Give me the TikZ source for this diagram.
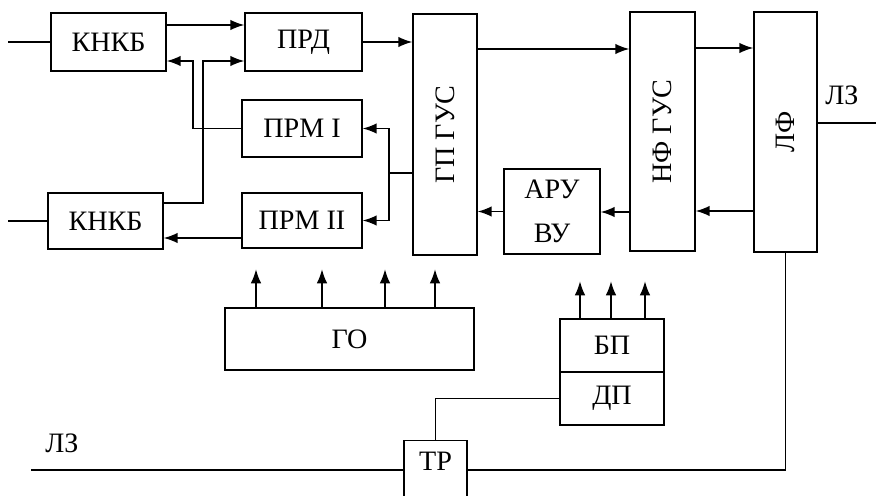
\documentclass[tikz,border=0pt]{standalone}
\usepackage{fontspec}
\setmainfont{Liberation Serif}
\usepackage{graphicx}
\usetikzlibrary{arrows.meta, calc}

\begin{document}
\begin{tikzpicture}[x=0.02cm, y=-0.02cm, line width=0.8pt,
  font=\fontsize{16}{19}\selectfont,
  block/.style={draw, rectangle, inner sep=0pt},
  arr/.style={-{Latex[length=2.8mm,width=2.1mm]}}]
\path[use as bounding box, clip] (0,0) rectangle (876,496);

% Blocks
\node[block, minimum width=2.3cm, minimum height=1.16cm] (knkbA) at (108.5,42) {КНКБ};
\node[block, minimum width=2.3cm, minimum height=1.12cm] (knkbB) at (105.5,221) {КНКБ};
\node[block, minimum width=2.34cm, minimum height=1.16cm] (prd) at (303.5,42) {ПРД};
\node[block, minimum width=2.4cm, minimum height=1.14cm] (prmA) at (302,128.5) {ПРМ I};
\node[block, minimum width=2.4cm, minimum height=1.1cm] (prmB) at (302,220.5) {ПРМ II};
\node[block, minimum width=1.28cm, minimum height=4.82cm] (gpgus) at (445,134.5) {\rotatebox{90}{ГП ГУС}};
\node[block, minimum width=1.92cm, minimum height=1.7cm, align=center] (aru) at (552,211.5) {АРУ\\[6pt]ВУ};
\node[block, minimum width=1.3cm, minimum height=4.78cm] (nfgus) at (662.5,131.5) {\rotatebox{90}{НФ ГУС}};
\node[block, minimum width=1.26cm, minimum height=4.8cm] (lf) at (785.5,132) {\rotatebox{90}{ЛФ}};
\node[block, minimum width=4.98cm, minimum height=1.24cm] (go) at (349.5,339) {ГО};
\node[block, minimum width=2.08cm, minimum height=1.06cm] (bp) at (612,345.5) {БП};
\node[block, minimum width=2.08cm, minimum height=1.06cm] (dp) at (612,398.5) {ДП};
\node[block, minimum width=1.26cm, minimum height=1.3cm, anchor=north, text depth=13pt] (tp) at (435.5,440) {ТР};

% Line labels
\node (lzR) at (842,95) {ЛЗ};
\node (lzL) at (62,443) {ЛЗ};
\coordinate (inA) at (8,42);
\coordinate (inB) at (8,221);
\coordinate (outR) at (876,123);
\coordinate (outL) at (31,470);
\coordinate (splitA) at (193,61);
\coordinate (splitB) at (203,61);
\coordinate (splitC) at (389,173);

% Left side
\draw (inA) -- (knkbA.west);
\draw (inB) -- (knkbB.west);
\draw[arr] (knkbA.east |- 0,25) -- (prd.west |- 0,25);
\draw[arr] (prmA.west) -| (splitA) -- (knkbA.east |- splitA);
\draw[arr] (knkbB.east |- 0,203) -| (splitB) -- (prd.west |- splitB);
\draw[arr] (prmB.west |- 0,238) -- (knkbB.east |- 0,238);
\draw[arr] (prd.east) -- (gpgus.west |- prd.east);
\draw (gpgus.west |- splitC) -- (splitC);
\draw[arr] (splitC) |- (prmA.east);
\draw[arr] (splitC) |- (prmB.east);

% Right side
\draw[arr] (gpgus.east |- 0,49) -- (nfgus.west |- 0,49);
\draw[arr] (nfgus.east |- 0,48) -- (lf.west |- 0,48);
\draw[arr] (lf.west |- 0,211) -- (nfgus.east |- 0,211);
\draw[arr] (nfgus.west |- 0,212) -- (aru.east |- 0,212);
\draw[arr] (aru.west) -- (gpgus.east |- aru.west);
\draw (lf.east |- outR) -- (outR);

% Line transformer
\draw (outL) -- (tp.west |- outL);
\draw (lf.south) |- (tp.east |- outL);
\draw (tp.north) |- (dp.west);

% Supply arrows
\foreach \x in {256,322,385,435} {
    \draw[arr] (go.north -| \x,0) -- ++(0,-38);
}
\foreach \x in {580,611,645} {
    \draw[arr] (bp.north -| \x,0) -- ++(0,-37);
}
\end{tikzpicture}
\end{document}
